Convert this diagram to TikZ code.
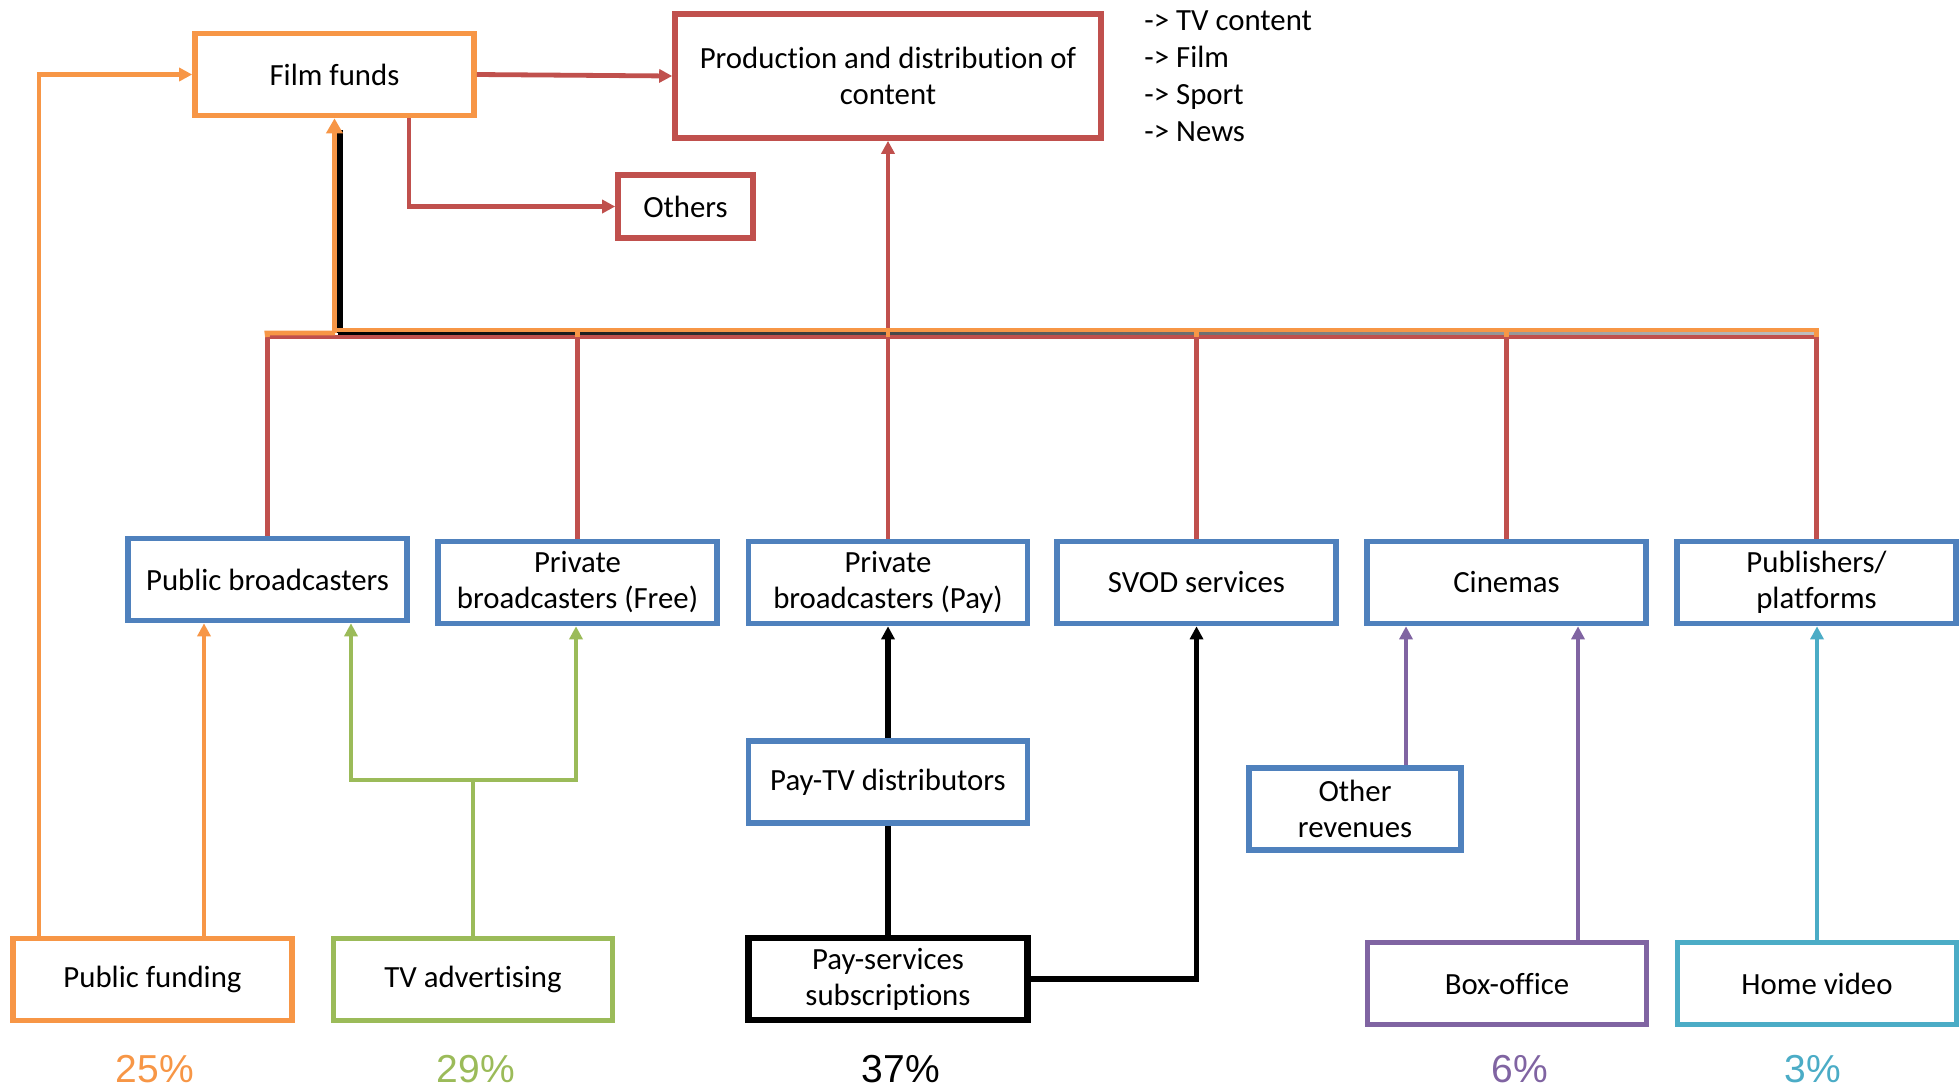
\documentclass[tikz,border=0pt]{standalone}
\usepackage{fontspec}
\setmainfont{Carlito}[Ligatures={TeX,NoCommon}]
\newfontfamily\pctfont{Liberation Sans}
\usetikzlibrary{arrows.meta}
\definecolor{cOrange}{HTML}{F79646}
\definecolor{cRed}{HTML}{C0504D}
\definecolor{cBlue}{HTML}{4F81BD}
\definecolor{cGreen}{HTML}{9BBB59}
\definecolor{cPurple}{HTML}{8064A2}
\definecolor{cTeal}{HTML}{4BACC6}
\begin{document}
\begin{tikzpicture}[x=0.5pt,y=-0.5pt,
  box/.style={draw, line width=2.8pt, minimum width=139.5pt, minimum height=41pt,
    align=center, inner sep=2pt, fill=white, font=\fontsize{15.4}{18}\selectfont},
  bluebox/.style={box, draw=cBlue},
  conn/.style={line width=2.4pt},
  tip/.tip={Triangle[length=6.5pt,width=6.5pt]},
  arr/.style={-tip},
  pct/.style={font=\pctfont\fontsize{19.5}{22}\selectfont},
  ]
\useasboundingbox (0,0) rectangle (1959,1089);

% top
\node[box, draw=cOrange] (filmfunds) at (334.5,74.5) {Film funds};
\node[box, draw=cRed, minimum width=213pt, minimum height=62pt] (prod) at (888,76) {Production and distribution of\\content};
\node[box, draw=cRed, minimum width=67.5pt, minimum height=31.5pt] (others) at (685.5,206.5) {Others};
\node[anchor=west, align=left, inner sep=0pt, font=\fontsize{15.4}{18.5}\selectfont] (list) at (1144,76.5) {-> TV content\\-> Film\\-> Sport\\-> News};

% middle row
\node[bluebox] (pubb) at (267.5,579.5) {Public broadcasters};
\node[bluebox] (privf) at (577.5,582.5) {Private\\broadcasters (Free)};
\node[bluebox] (privp) at (888,582.5) {Private\\broadcasters (Pay)};
\node[bluebox] (svod) at (1196.5,582.5) {SVOD services};
\node[bluebox] (cinemas) at (1506.5,582.5) {Cinemas};
\node[bluebox] (publ) at (1816.5,582.5) {Publishers/\\platforms};

\node[bluebox] (paytv) at (888,782) {Pay-TV distributors};
\node[bluebox, minimum width=106pt] (otherrev) at (1355,809) {Other\\revenues};

% bottom row
\node[box, draw=cOrange] (pubfund) at (152.5,979.5) {Public funding};
\node[box, draw=cGreen] (tvadv) at (473,979.5) {TV advertising};
\node[box, draw=black, line width=3.3pt] (paysub) at (888,979) {Pay-services\\subscriptions};
\node[box, draw=cPurple] (boxoff) at (1507,983.5) {Box-office};
\node[box, draw=cTeal] (homevid) at (1817,983.5) {Home video};

% percentages
\node[pct, text=cOrange] (p25) at (155,1069) {25\%};
\node[pct, text=cGreen] (p29) at (476,1069) {29\%};
\node[pct, text=black] (p37) at (901,1069) {37\%};
\node[pct, text=cPurple] (p6) at (1520,1069) {6\%};
\node[pct, text=cTeal] (p3) at (1813,1069) {3\%};

% helper coordinates
\coordinate (rb) at (0,337);
\coordinate (ob) at (0,330);
\coordinate (xA) at (39,0);
\coordinate (xB) at (204,0);
\coordinate (gl) at (351,780);
\coordinate (gj) at (473,780);
\coordinate (gr) at (576,780);
\coordinate (p1) at (1406,0);
\coordinate (p2) at (1578,0);
\coordinate (ro) at (409,0);

% shadow of the orange bus
\shade[left color=black, right color=black!25] (338,331) rectangle (1817,336);
\fill[black] (336,130) rectangle (343,333);

% red bus
\foreach \n in {pubb,privf,privp,svod,cinemas,publ}
  \draw[conn,cRed] (\n.north) -- (\n.north |- rb);
\draw[conn,cRed] (pubb.north |- rb) -- (publ.north |- rb);
\draw[conn,cRed,arr] (privp.north |- rb) -- (prod.south);

% orange bus
\foreach \n in {privf,privp,svod,cinemas}
  \draw[conn,cOrange] (\n.north |- ob) -- (\n.north |- rb);
\draw[conn,cOrange] (pubb.north |- rb) -- (267,333) -- (335,333);
\draw[conn,cOrange] (filmfunds.south |- ob) -- (publ.north |- ob) -- (publ.north |- rb);
\draw[conn,cOrange,-{Triangle[length=7.5pt,width=8pt]}] (filmfunds.south |- 0,333) -- (filmfunds.south);

% film funds outputs
\draw[conn,cRed,arr] (filmfunds.east) -- (prod.west);
\draw[conn,cRed,arr] (ro |- filmfunds.south) |- (others.west);

% public funding
\draw[conn,cOrange,arr] (xA |- pubfund.north) |- (filmfunds.west);
\draw[conn,cOrange,arr] (xB |- pubfund.north) -- (xB |- pubb.south);

% tv advertising
\draw[conn,cGreen] (tvadv.north) -- (gj);
\draw[conn,cGreen,tip-tip] (gl |- pubb.south) -- (gl) -- (gr) -- (gr |- privf.south);

% pay services
\draw[line width=2.6pt,black] (paysub.north) -- (paytv.south);
\draw[line width=2.6pt,black,arr] (paytv.north) -- (privp.south);
\draw[line width=2.6pt,black,arr] (paysub.east) -| (svod.south);

% cinemas & publishers
\draw[conn,cPurple,arr] (p1 |- otherrev.north) -- (p1 |- cinemas.south);
\draw[conn,cPurple,arr] (p2 |- boxoff.north) -- (p2 |- cinemas.south);
\draw[conn,cTeal,arr] (homevid.north) -- (homevid.north |- publ.south);
\end{tikzpicture}
\end{document}
